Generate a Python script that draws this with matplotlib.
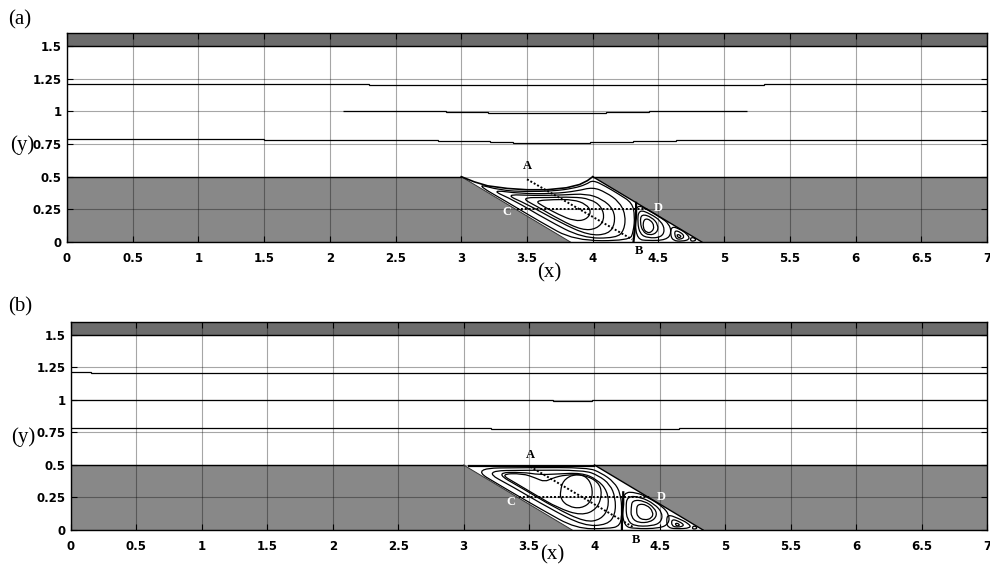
import matplotlib.pyplot as plt
from matplotlib.patches import Polygon, PathPatch
from matplotlib.path import Path

# axes ticks
x_ticks = [0, 0.5, 1, 1.5, 2, 2.5, 3, 3.5, 4, 4.5, 5, 5.5, 6, 6.5, 7]
x_labels = ['0', '0.5', '1', '1.5', '2', '2.5', '3', '3.5', '4', '4.5', '5', '5.5', '6', '6.5', '7']
y_ticks = [0, 0.25, 0.5, 0.75, 1, 1.25, 1.5]
y_labels = ['0', '0.25', '0.5', '0.75', '1', '1.25', '1.5']

# geometry: channel walls and slanted cavity
y_top_wall = 1.5
y_bottom_wall = 0.5
y_max = 1.6
cavity = [(3.0, 0.5), (4.0, 0.5), (4.83, 0.0), (3.83, 0.0)]

# ---- panel (a) ----
# channel streamlines (piecewise levels from contour plot)
a_top_edges = [0, 2.3, 5.3, 7]
a_top_vals = [1.21, 1.20, 1.21]
a_mid_edges = [2.1, 2.88, 3.2, 4.1, 4.43, 5.17]
a_mid_vals = [1.0, 0.992, 0.985, 0.992, 1.0]
a_low_edges = [0, 1.5, 2.82, 3.22, 3.39, 3.98, 4.12, 4.31, 4.63, 7]
a_low_vals = [0.786, 0.779, 0.77, 0.762, 0.755, 0.762, 0.766, 0.772, 0.779]

a_dividing = [(3.0, 0.5), (3.1, 0.46), (3.2, 0.43), (3.35, 0.41), (3.5, 0.40), (3.65, 0.40),
              (3.8, 0.415), (3.9, 0.44), (3.96, 0.47), (4.0, 0.5)]
a_separation = [(4.33, 0.30), (4.33, 0.2), (4.32, 0.1), (4.31, 0.0)]

a_loops = [
    # main vortex
    [(3.10, 0.45), (3.3, 0.395), (3.5, 0.385), (3.7, 0.39), (3.85, 0.41), (3.95, 0.44), (4.0, 0.475),
     (4.1, 0.425), (4.2, 0.365), (4.3, 0.30), (4.32, 0.2), (4.31, 0.08), (4.28, 0.01), (3.86, 0.01),
     (3.6, 0.155), (3.35, 0.305)],
    [(3.22, 0.40), (3.45, 0.37), (3.7, 0.37), (3.88, 0.39), (4.0, 0.42), (4.1, 0.38), (4.2, 0.31),
     (4.25, 0.21), (4.24, 0.09), (4.18, 0.03), (3.92, 0.03), (3.65, 0.17), (3.40, 0.32)],
    [(3.33, 0.365), (3.55, 0.355), (3.78, 0.36), (3.95, 0.37), (4.07, 0.33), (4.16, 0.25), (4.17, 0.14),
     (4.12, 0.06), (3.97, 0.05), (3.75, 0.15), (3.50, 0.29)],
    [(3.45, 0.34), (3.65, 0.34), (3.85, 0.345), (3.98, 0.33), (4.07, 0.27), (4.09, 0.17), (4.03, 0.10),
     (3.92, 0.09), (3.75, 0.17), (3.58, 0.27)],
    [(3.56, 0.315), (3.70, 0.325), (3.85, 0.325), (3.95, 0.29), (3.99, 0.23), (3.95, 0.17), (3.86, 0.16),
     (3.74, 0.21), (3.62, 0.275)],
    # secondary vortex
    [(4.33, 0.29), (4.42, 0.245), (4.52, 0.185), (4.58, 0.14), (4.60, 0.07), (4.56, 0.015), (4.42, 0.01),
     (4.34, 0.02), (4.32, 0.15)],
    [(4.35, 0.25), (4.44, 0.215), (4.52, 0.16), (4.55, 0.09), (4.52, 0.035), (4.42, 0.03), (4.36, 0.06),
     (4.34, 0.15)],
    [(4.37, 0.215), (4.45, 0.19), (4.50, 0.13), (4.49, 0.07), (4.43, 0.05), (4.38, 0.08), (4.36, 0.15)],
    [(4.39, 0.18), (4.44, 0.17), (4.47, 0.12), (4.45, 0.075), (4.41, 0.07), (4.38, 0.11)],
    # third and corner vortices
    [(4.60, 0.12), (4.66, 0.10), (4.72, 0.06), (4.74, 0.02), (4.68, 0.005), (4.61, 0.01), (4.59, 0.06)],
    [(4.62, 0.09), (4.67, 0.075), (4.70, 0.04), (4.67, 0.02), (4.63, 0.025)],
    [(4.64, 0.06), (4.67, 0.05), (4.67, 0.035), (4.645, 0.035)],
    [(4.75, 0.04), (4.79, 0.02), (4.77, 0.005), (4.74, 0.01)],
]
a_ab = [(3.5, 0.48), (4.3, 0.02)]
a_cd = [(3.42, 0.25), (4.42, 0.25)]
a_letters = {'A': (3.505, 0.585), 'B': (4.35, -0.07), 'C': (3.35, 0.226), 'D': (4.50, 0.264)}

# ---- panel (b) ----
b_top_edges = [0, 0.15, 7]
b_top_vals = [1.215, 1.205]
b_mid_edges = [0, 3.68, 3.98, 7]
b_mid_vals = [1.0, 0.99, 1.0]
b_low_edges = [0, 3.21, 4.65, 7]
b_low_vals = [0.785, 0.778, 0.785]

b_dividing = [(3.04, 0.49), (3.5, 0.49), (4.0, 0.49)]
b_separation = [(4.22, 0.29), (4.22, 0.2), (4.21, 0.1), (4.21, 0.0)]

b_loops = [
    # main vortex
    [(3.06, 0.475), (3.5, 0.48), (3.95, 0.48), (4.05, 0.44), (4.15, 0.37), (4.20, 0.28), (4.21, 0.15),
     (4.20, 0.03), (4.1, 0.01), (3.86, 0.01), (3.6, 0.155), (3.3, 0.33)],
    [(3.15, 0.455), (3.5, 0.46), (3.92, 0.46), (4.03, 0.42), (4.12, 0.35), (4.16, 0.25), (4.16, 0.12),
     (4.10, 0.04), (3.92, 0.03), (3.65, 0.17), (3.38, 0.33)],
    [(3.24, 0.44), (3.45, 0.445), (3.58, 0.425), (3.70, 0.43), (3.90, 0.44), (4.02, 0.39), (4.10, 0.30),
     (4.11, 0.17), (4.05, 0.08), (3.93, 0.06), (3.70, 0.17), (3.45, 0.32)],
    [(3.28, 0.43), (3.45, 0.435), (3.55, 0.40), (3.62, 0.37), (3.68, 0.40), (3.78, 0.425), (3.92, 0.425),
     (4.03, 0.37), (4.06, 0.28), (4.02, 0.16), (3.9, 0.11), (3.72, 0.17), (3.55, 0.27), (3.40, 0.36)],
    [(3.74, 0.30), (3.76, 0.38), (3.84, 0.43), (3.93, 0.42), (3.985, 0.34), (3.98, 0.22), (3.90, 0.165),
     (3.80, 0.18), (3.74, 0.24)],
    # secondary vortex
    [(4.22, 0.29), (4.32, 0.29), (4.42, 0.245), (4.52, 0.18), (4.57, 0.12), (4.57, 0.05), (4.50, 0.012),
     (4.30, 0.01), (4.23, 0.03), (4.21, 0.15)],
    [(4.25, 0.26), (4.35, 0.255), (4.46, 0.20), (4.52, 0.13), (4.51, 0.06), (4.44, 0.03), (4.30, 0.03),
     (4.25, 0.08), (4.24, 0.17)],
    [(4.29, 0.23), (4.38, 0.225), (4.46, 0.17), (4.48, 0.11), (4.43, 0.06), (4.33, 0.055), (4.28, 0.10),
     (4.28, 0.17)],
    [(4.33, 0.20), (4.40, 0.195), (4.45, 0.14), (4.44, 0.09), (4.38, 0.075), (4.33, 0.10), (4.32, 0.15)],
    # third and corner vortices
    [(4.56, 0.12), (4.64, 0.09), (4.72, 0.05), (4.74, 0.015), (4.62, 0.008), (4.56, 0.02), (4.55, 0.07)],
    [(4.59, 0.085), (4.65, 0.065), (4.69, 0.035), (4.64, 0.02), (4.59, 0.03)],
    [(4.62, 0.055), (4.65, 0.045), (4.645, 0.03), (4.62, 0.035)],
    [(4.76, 0.035), (4.79, 0.015), (4.76, 0.005), (4.745, 0.015)],
]
b_ab = [(3.51, 0.487), (4.30, 0.02)]
b_cd = [(3.42, 0.25), (4.43, 0.25)]
b_letters = {'A': (3.51, 0.58), 'B': (4.32, -0.08), 'C': (3.36, 0.215), 'D': (4.51, 0.254)}

SERIF = 'Liberation Serif'


def smooth_loop(points):
    # closed quadratic-bezier outline using the listed points as control points
    n = len(points)
    mids = [((points[i][0] + points[(i + 1) % n][0]) / 2, (points[i][1] + points[(i + 1) % n][1]) / 2)
            for i in range(n)]
    verts = [mids[-1]]
    codes = [Path.MOVETO]
    for i in range(n):
        verts += [points[i], mids[i]]
        codes += [Path.CURVE3, Path.CURVE3]
    return Path(verts, codes)


def draw_panel(ax, stream_lines, dividing, separation, loops, ab, cd, letters, flat_top):
    ax.set_xlim(0, 7)
    ax.set_ylim(0, y_max)

    # solid walls (gray) and the cavity cut into the lower wall
    ax.axhspan(0, y_bottom_wall, color='#888888', zorder=1, lw=0)
    ax.axhspan(y_top_wall, y_max, color='#6c6c6c', zorder=1, lw=0)
    ax.add_patch(Polygon(cavity, closed=True, facecolor='white', edgecolor='none', zorder=1.2))

    # wall outlines
    ax.plot([0, 7], [y_top_wall, y_top_wall], color='black', lw=1.0, zorder=3)
    ax.plot([0, 3], [y_bottom_wall, y_bottom_wall], color='black', lw=1.0, zorder=3)
    ax.plot([4, 7], [y_bottom_wall, y_bottom_wall], color='black', lw=1.0, zorder=3)
    cx = [p[0] for p in cavity]
    cy = [p[1] for p in cavity]
    ax.plot([cx[0], cx[3]], [cy[0], cy[3]], color='#333333', lw=0.7, zorder=3)
    ax.plot([cx[1], cx[2]], [cy[1], cy[2]], color='black', lw=1.0, zorder=3)

    # channel streamlines
    for edges, vals in stream_lines:
        ax.stairs(vals, edges, baseline=None, color='black', lw=0.9, zorder=3)

    # cavity streamlines
    ax.plot([p[0] for p in dividing], [p[1] for p in dividing], color='black',
            lw=1.6 if flat_top else 1.2, zorder=3)
    ax.plot([p[0] for p in separation], [p[1] for p in separation], color='black', lw=1.6, zorder=3)
    for loop in loops:
        ax.add_patch(PathPatch(smooth_loop(loop), facecolor='none', edgecolor='black', lw=0.9, zorder=3))

    # section lines A-B and C-D
    ax.plot([p[0] for p in ab], [p[1] for p in ab], color='black', lw=1.4, ls=(0, (1, 1)), zorder=4)
    ax.plot([p[0] for p in cd], [p[1] for p in cd], color='black', lw=1.4, ls=(0, (1, 1)), zorder=4)
    for name, (lx, ly) in letters.items():
        col = 'white' if name in ('C', 'D') else 'black'
        ax.text(lx, ly, name, fontsize=9, fontweight='bold', family=SERIF, color=col,
                ha='center', va='center', zorder=5, clip_on=False)

    # MATLAB-like grid and ticks
    ax.set_xticks(x_ticks)
    ax.set_xticklabels(x_labels)
    ax.set_yticks(y_ticks)
    ax.set_yticklabels(y_labels)
    ax.grid(True, color='black', alpha=0.35, lw=0.8)
    ax.set_axisbelow(False)
    ax.tick_params(direction='in', length=4, width=0.8, top=True, right=True,
                   labelsize=8.5)
    ax.tick_params(axis='x', pad=7)
    ax.tick_params(axis='y', pad=4)
    for lab in ax.get_xticklabels() + ax.get_yticklabels():
        lab.set_fontweight('bold')
    for sp in ax.spines.values():
        sp.set_linewidth(1.0)
        sp.set_zorder(6)


fig = plt.figure(figsize=(9.9, 5.71), dpi=100)
ax_a = fig.add_axes([0.0677, 0.5762, 0.9293, 0.366])
ax_b = fig.add_axes([0.0717, 0.0718, 0.9253, 0.3643])

draw_panel(ax_a,
           [(a_top_edges, a_top_vals), (a_mid_edges, a_mid_vals), (a_low_edges, a_low_vals)],
           a_dividing, a_separation, a_loops, a_ab, a_cd, a_letters, flat_top=False)
draw_panel(ax_b,
           [(b_top_edges, b_top_vals), (b_mid_edges, b_mid_vals), (b_low_edges, b_low_vals)],
           b_dividing, b_separation, b_loops, b_ab, b_cd, b_letters, flat_top=True)

fig.text(0.0202, 0.965, '(a)', family=SERIF, fontsize=15, ha='center', va='center')
fig.text(0.0202, 0.4623, '(b)', family=SERIF, fontsize=15, ha='center', va='center')
fig.text(0.0222, 0.746, '(y)', family=SERIF, fontsize=15, ha='center', va='center')
fig.text(0.0232, 0.2347, '(y)', family=SERIF, fontsize=15, ha='center', va='center')
fig.text(0.5545, 0.5225, '(x)', family=SERIF, fontsize=15, ha='center', va='center')
fig.text(0.5576, 0.028, '(x)', family=SERIF, fontsize=15, ha='center', va='center')

fig.savefig('out.png', dpi=100)
